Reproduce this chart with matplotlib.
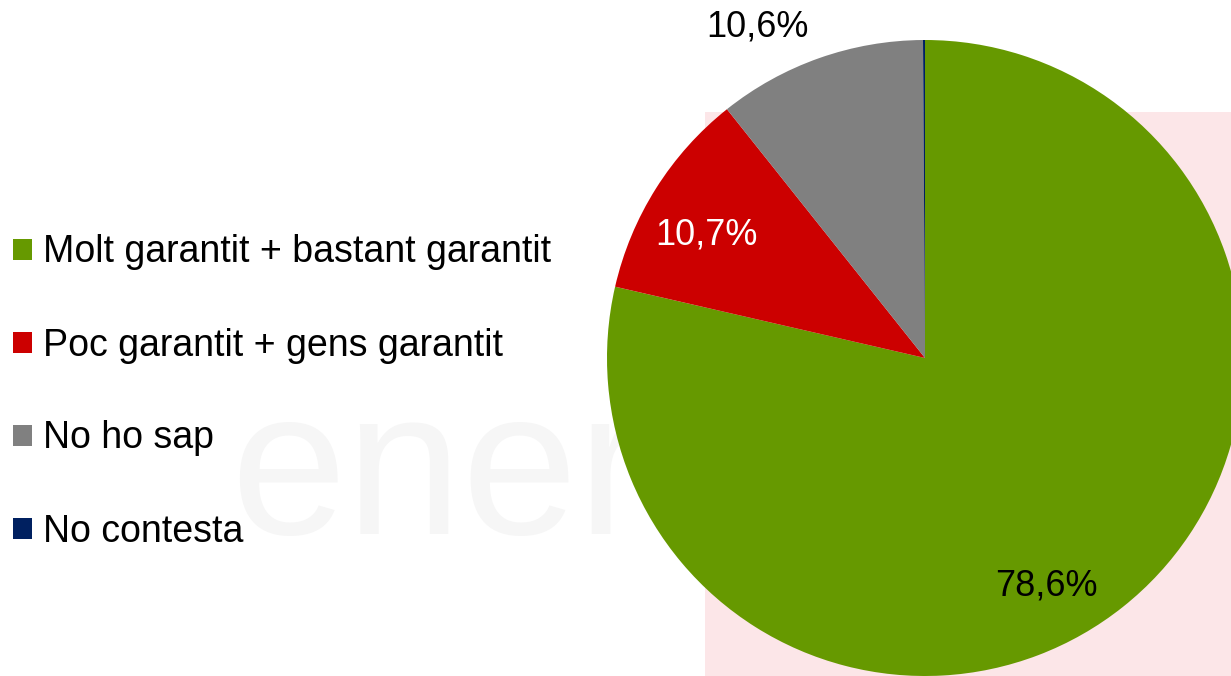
import matplotlib
matplotlib.use("Agg")
import matplotlib.pyplot as plt
from matplotlib.patches import Patch, Rectangle

plt.rcParams['font.family'] = ['Liberation Sans', 'DejaVu Sans']

categories = ["Molt garantit + bastant garantit", "Poc garantit + gens garantit",
              "No ho sap", "No contesta"]
values = [78.6, 10.7, 10.6, 0.1]
value_labels = ["78,6%", "10,7%", "10,6%", ""]
colors = ["#669900", "#CC0000", "#808080", "#002060"]
label_colors = ["black", "white", "black", "black"]

W, H = 1231, 676
fig = plt.figure(figsize=(W / 100, H / 100), dpi=100)
fig.patch.set_facecolor("white")

# faint background watermark
bg = fig.add_axes([0, 0, 1, 1])
bg.set_xlim(0, W)
bg.set_ylim(H, 0)
bg.axis("off")
bg.add_patch(Rectangle((705, 112), 540, 600, color="#fce6e8", lw=0, zorder=0))
bg.text(230, 480, "eneralit", fontsize=150, color="#f6f6f6",
        ha="left", va="center", zorder=1)

cx, cy, r = 925, 358, 318
ax = fig.add_axes([(cx - r) / W, (H - cy - r) / H, 2 * r / W, 2 * r / H])
wedges, _ = ax.pie(values, colors=colors, startangle=90, counterclock=False,
                   radius=1.0, wedgeprops=dict(linewidth=0))
for w in wedges:
    w.set_clip_on(False)
ax.set_xlim(-1, 1)
ax.set_ylim(-1, 1)
ax.set_aspect("equal")
ax.axis("off")

label_pos = [(0.381, -0.717), (-0.686, 0.387), (-0.528, 1.041), (0, 0)]
for lab, (x, y), c in zip(value_labels, label_pos, label_colors):
    if lab:
        ax.text(x, y, lab, fontsize=26, color=c, ha="center", va="center",
                clip_on=False)

handles = [Patch(facecolor=c, edgecolor="none") for c in colors]
fig.legend(handles, categories, loc="center left",
           bbox_to_anchor=(13 / W, 1 - 392 / H), frameon=False,
           fontsize=27, handlelength=0.5, handleheight=0.5,
           handletextpad=0.3, labelspacing=1.52, borderpad=0,
           borderaxespad=0)

fig.savefig("out.png", dpi=100)
